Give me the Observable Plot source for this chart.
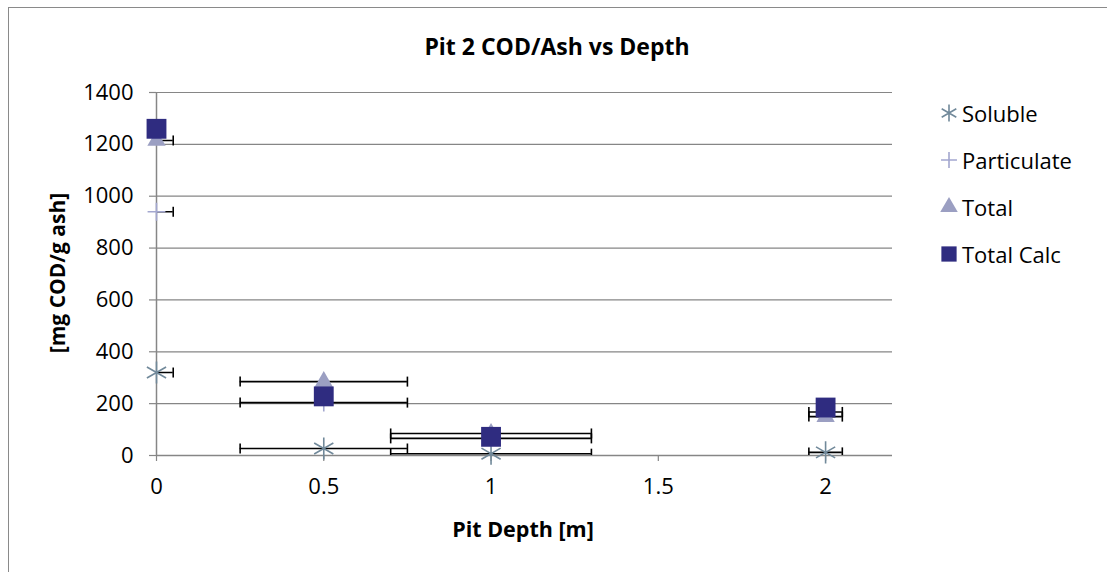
<!DOCTYPE html>
<html>
<head>
<meta charset="utf-8">
<script src="https://cdn.jsdelivr.net/npm/d3@7"></script>
<script src="https://cdn.jsdelivr.net/npm/@observablehq/plot@0.6"></script>
<style>
  html, body { margin: 0; padding: 0; background: #fff; }
  #wrap { position: relative; width: 1107px; height: 572px; overflow: hidden; font-family: "Open Sans", sans-serif; }
  #frame { position: absolute; left: 8px; top: 7px; width: 1120px; height: 600px; border: 1.5px solid #8a8a8a; box-sizing: border-box; }
  #chart { position: absolute; left: 0; top: 0; }
  .lbl { position: absolute; white-space: nowrap; color: #000; }
  #title { left: 557px; top: 46px; transform: translate(-50%, -50%); font-weight: bold; font-size: 23px; }
  #xtitle { left: 523px; top: 528px; transform: translate(-50%, -50%); font-weight: bold; font-size: 21.5px; }
  #ytitle { left: 57px; top: 273px; transform: translate(-50%, -50%) rotate(-90deg); font-weight: bold; font-size: 21px; }
  #legend { position: absolute; left: 936px; top: 0; }
  .item { position: absolute; left: 0; height: 30px; display: flex; align-items: center; font-size: 22px; white-space: nowrap; transform: translateY(-50%); }
  .item svg { width: 26px; height: 26px; margin-right: 0px; }
</style>
</head>
<body>
<div id="wrap">
  <div id="frame"></div>
  <div id="chart"></div>
  <div class="lbl" id="title">Pit 2 COD/Ash vs Depth</div>
  <div class="lbl" id="xtitle">Pit Depth [m]</div>
  <div class="lbl" id="ytitle">[mg COD/g ash]</div>
  <div id="legend"></div>
</div>
<script>
// ---- data ----
const depth = [0, 0.5, 1, 2];
const depthErr = [0.05, 0.25, 0.3, 0.05];
const soluble = [320, 27, 7, 12];
const particulate = [940, 204, 66, 168];
const total = [1215, 285, 85, 150];
const totalCalc = [1260, 228, 72, 185];

const seriesNames = ["Soluble", "Particulate", "Total", "Total Calc"];
const xTicks = [0, 0.5, 1, 1.5, 2];
const yTicks = [0, 200, 400, 600, 800, 1000, 1200, 1400];

const colors = {Soluble: "#71899a", Particulate: "#a3a7cf", Total: "#9b9fc2", "Total Calc": "#2f2c80"};

const rows = (name, vals) => depth.map((x, i) => ({series: name, x, y: vals[i], err: depthErr[i]}));
const solData = rows("Soluble", soluble);
const partData = rows("Particulate", particulate);
const totData = rows("Total", total);
const calcData = rows("Total Calc", totalCalc);

// error bars on measured series
const errData = [...solData, ...partData, ...totData];
const capData = errData.flatMap(d => [{x: d.x - d.err, y: d.y}, {x: d.x + d.err, y: d.y}]);

const vbar = {
  draw(context, size) {
    const h = Math.sqrt(size / Math.PI);
    context.moveTo(0, -h);
    context.lineTo(0, h);
  }
};

const gray = "#868686";

const chart = Plot.plot({
  width: 1107,
  height: 572,
  marginLeft: 156,
  marginRight: 215,
  marginTop: 92,
  marginBottom: 117,
  style: {fontFamily: "Open Sans, sans-serif", fontSize: "22px", background: "transparent", color: "#000"},
  x: {domain: [0, 2.2]},
  y: {domain: [0, 1400]},
  marks: [
    Plot.gridY(yTicks, {stroke: gray, strokeOpacity: 1, strokeWidth: 1.2}),
    Plot.axisY({ticks: yTicks, tickSize: 7, tickPadding: 16, stroke: gray, strokeWidth: 1.2, fill: "#000", label: null, fontSize: 22, tickFormat: d => String(d)}),
    Plot.axisX({ticks: xTicks, tickSize: 6, tickPadding: 17, stroke: gray, strokeWidth: 1.2, fill: "#000", label: null, fontSize: 22, tickFormat: d => String(d)}),
    Plot.ruleX([0], {stroke: gray, strokeWidth: 1.5}),
    Plot.ruleY([0], {stroke: gray, strokeWidth: 1.5}),
    // error bars
    Plot.ruleY(errData, {y: "y", x1: d => d.x - d.err, x2: d => d.x + d.err, stroke: "#000", strokeWidth: 1.6, clip: true}),
    Plot.dot(capData, {x: "x", y: "y", symbol: vbar, r: 5, stroke: "#000", strokeWidth: 1.6, clip: true}),
    // markers
    Plot.dot(solData, {x: "x", y: "y", symbol: "asterisk", r: 10.5, stroke: colors.Soluble, strokeWidth: 1.6}),
    Plot.dot(partData, {x: "x", y: "y", symbol: "plus", r: 5.8, stroke: colors.Particulate, strokeWidth: 1.6}),
    Plot.dot(totData, {x: "x", y: "y", symbol: "triangle", r: 6.8, fill: colors.Total, stroke: "none"}),
    Plot.dot(calcData, {x: "x", y: "y", symbol: "square", r: 11.2, fill: colors["Total Calc"], stroke: "none"})
  ]
});
document.getElementById("chart").appendChild(chart);

// legend
const legendSymbols = {
  Soluble: {sym: d3.symbolAsterisk, r: 8, stroke: true},
  Particulate: {sym: d3.symbolPlus, r: 5.2, stroke: true},
  Total: {sym: d3.symbolTriangle, r: 6.5, stroke: false},
  "Total Calc": {sym: d3.symbolSquare, r: 8.6, stroke: false}
};
const legendY = [113, 160, 207, 254];
const legend = document.getElementById("legend");
seriesNames.forEach((name, i) => {
  const s = legendSymbols[name];
  const path = d3.symbol(s.sym, Math.PI * s.r * s.r)();
  const item = document.createElement("div");
  item.className = "item";
  item.style.top = legendY[i] + "px";
  const attrs = s.stroke
    ? `fill="none" stroke="${colors[name]}" stroke-width="1.6"`
    : `fill="${colors[name]}"`;
  item.innerHTML = `<svg viewBox="-13 -13 26 26"><path d="${path}" ${attrs}/></svg><span>${name}</span>`;
  legend.appendChild(item);
});
</script>
</body>
</html>
